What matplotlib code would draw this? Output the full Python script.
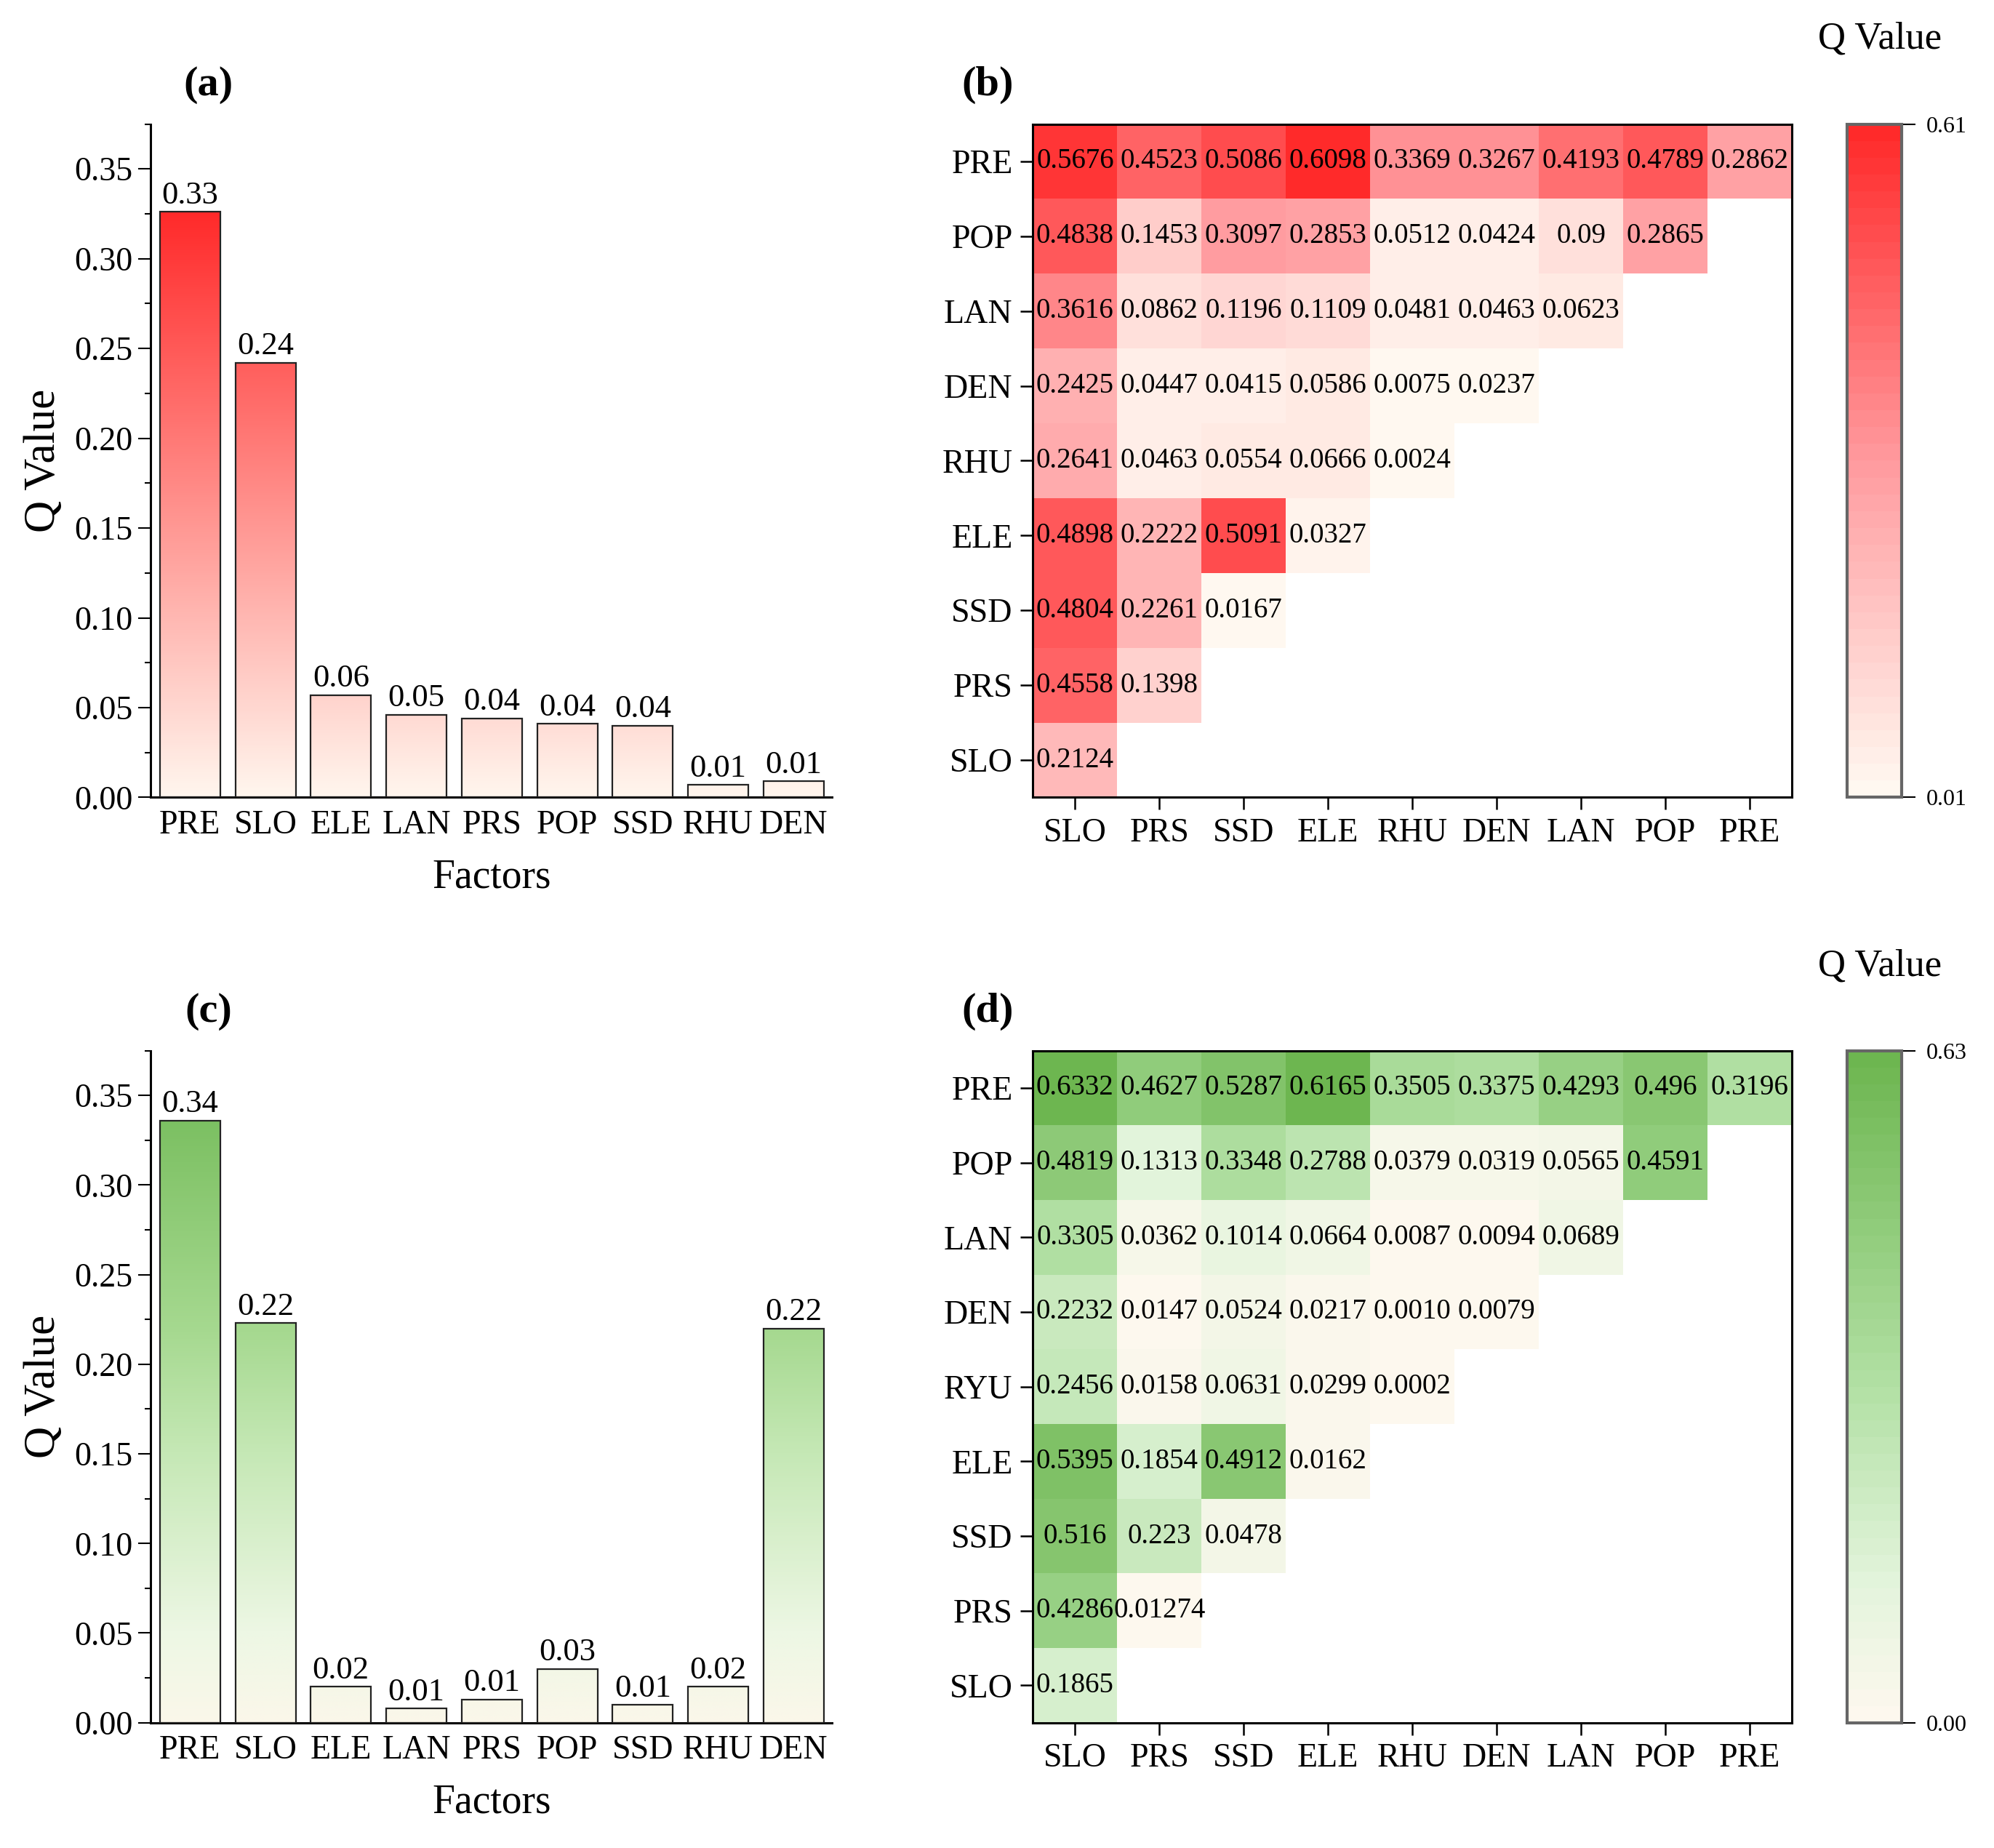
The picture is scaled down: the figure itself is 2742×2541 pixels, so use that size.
import numpy as np
import matplotlib
matplotlib.use('Agg')
import matplotlib.pyplot as plt
from matplotlib.colors import LinearSegmentedColormap
from matplotlib.ticker import MultipleLocator

plt.rcParams['font.family'] = ['Liberation Serif', 'DejaVu Serif']

# single factor q values (bar charts)
factors = ['PRE', 'SLO', 'ELE', 'LAN', 'PRS', 'POP', 'SSD', 'RHU', 'DEN']
q_a = [0.326, 0.242, 0.057, 0.046, 0.044, 0.041, 0.040, 0.007, 0.009]
q_c = [0.336, 0.223, 0.020, 0.008, 0.013, 0.030, 0.010, 0.020, 0.220]

# interaction q values, rows listed top to bottom
pair_cols = ['SLO', 'PRS', 'SSD', 'ELE', 'RHU', 'DEN', 'LAN', 'POP', 'PRE']
rows_b = ['PRE', 'POP', 'LAN', 'DEN', 'RHU', 'ELE', 'SSD', 'PRS', 'SLO']
rows_d = ['PRE', 'POP', 'LAN', 'DEN', 'RYU', 'ELE', 'SSD', 'PRS', 'SLO']
inter_b = [
    ['0.5676', '0.4523', '0.5086', '0.6098', '0.3369', '0.3267', '0.4193', '0.4789', '0.2862'],
    ['0.4838', '0.1453', '0.3097', '0.2853', '0.0512', '0.0424', '0.09', '0.2865'],
    ['0.3616', '0.0862', '0.1196', '0.1109', '0.0481', '0.0463', '0.0623'],
    ['0.2425', '0.0447', '0.0415', '0.0586', '0.0075', '0.0237'],
    ['0.2641', '0.0463', '0.0554', '0.0666', '0.0024'],
    ['0.4898', '0.2222', '0.5091', '0.0327'],
    ['0.4804', '0.2261', '0.0167'],
    ['0.4558', '0.1398'],
    ['0.2124'],
]
inter_d = [
    ['0.6332', '0.4627', '0.5287', '0.6165', '0.3505', '0.3375', '0.4293', '0.496', '0.3196'],
    ['0.4819', '0.1313', '0.3348', '0.2788', '0.0379', '0.0319', '0.0565', '0.4591'],
    ['0.3305', '0.0362', '0.1014', '0.0664', '0.0087', '0.0094', '0.0689'],
    ['0.2232', '0.0147', '0.0524', '0.0217', '0.0010', '0.0079'],
    ['0.2456', '0.0158', '0.0631', '0.0299', '0.0002'],
    ['0.5395', '0.1854', '0.4912', '0.0162'],
    ['0.516', '0.223', '0.0478'],
    ['0.4286', '0.01274'],
    ['0.1865'],
]

red_bar = LinearSegmentedColormap.from_list('rb', ['#FFF6EE', '#FF2A2A'])
green_bar = LinearSegmentedColormap.from_list(
    'gb', [(0, '#FBF7EA'), (0.15, '#EDF7E4'), (0.45, '#C5E8B5'), (0.65, '#A6D990'), (1, '#7CC062')])
red_heat = LinearSegmentedColormap.from_list('rh', [(0, '#FFF8F0'), (0.5, '#FF9A9E'), (1, '#FF2A2A')], N=40)
green_heat = LinearSegmentedColormap.from_list(
    'gh', [(0, '#FDF8EE'), (0.2, '#E3F4DC'), (0.5, '#B2E0A4'), (1, '#6DB650')], N=40)

fig = plt.figure(figsize=(27.42, 25.41), dpi=100)


def bar_panel(ax, values, cmap, tag):
    x = np.arange(len(factors))
    bars = ax.bar(x, values, width=0.8, facecolor='none', edgecolor='#222222', linewidth=1.6, zorder=3)
    vmax = max(values)
    for b, v in zip(bars, values):
        grad = np.linspace(0, v, 256).reshape(-1, 1)
        im = ax.imshow(grad, extent=[b.get_x(), b.get_x() + b.get_width(), 0, v], origin='lower',
                       cmap=cmap, vmin=0, vmax=vmax, aspect='auto', zorder=2)
        im.set_clip_path(b)
        ax.text(b.get_x() + b.get_width() / 2, v + 0.001, f'{v:.2f}', ha='center', va='bottom', fontsize=32)
    ax.set_xlim(-0.52, len(factors) - 0.49)
    ax.set_ylim(0, 0.375)
    ax.set_xticks(x)
    ax.set_xticklabels(factors, fontsize=33)
    ax.tick_params(axis='x', length=0, pad=12)
    ax.yaxis.set_major_locator(MultipleLocator(0.05))
    ax.yaxis.set_minor_locator(MultipleLocator(0.025))
    ax.set_yticklabels([f'{t:.2f}' for t in ax.get_yticks()], fontsize=33)
    ax.tick_params(axis='y', which='major', length=12, width=1.5, direction='out', pad=6)
    ax.tick_params(axis='y', which='minor', length=6, width=1.5, direction='out')
    for s in ['top', 'right']:
        ax.spines[s].set_visible(False)
    for s in ['left', 'bottom']:
        ax.spines[s].set_linewidth(2.2)
    ax.set_ylabel('Q Value', fontsize=44, labelpad=10)
    ax.set_xlabel('Factors', fontsize=40, labelpad=18)
    ax.text(0.085, 1.03, tag, transform=ax.transAxes, fontsize=42, fontweight='bold', ha='center', va='bottom')


def heat_panel(ax, cax, rows_text, row_labels, cmap, vmin, vmax, cb_labels, tag):
    n = len(pair_cols)
    z = np.full((n, n), np.nan)
    for r, row in enumerate(rows_text):
        for c, s in enumerate(row):
            z[n - 1 - r, c] = float(s)
    mesh = ax.pcolormesh(np.arange(n + 1), np.arange(n + 1), np.ma.masked_invalid(z),
                         cmap=cmap, vmin=vmin, vmax=vmax)
    for r, row in enumerate(rows_text):
        for c, s in enumerate(row):
            ax.text(c + 0.5, n - 1 - r + 0.5, s, ha='center', va='center', fontsize=28)
    ax.set_xlim(0, n)
    ax.set_ylim(0, n)
    ax.set_xticks(np.arange(n) + 0.5)
    ax.set_xticklabels(pair_cols, fontsize=33)
    ax.set_yticks(np.arange(n) + 0.5)
    ax.set_yticklabels(row_labels[::-1], fontsize=33)
    ax.tick_params(length=12, width=1.8, direction='out', pad=8)
    for s in ax.spines.values():
        s.set_linewidth(2.2)
    ax.text(-0.06, 1.03, tag, transform=ax.transAxes, fontsize=42, fontweight='bold', ha='center', va='bottom')

    cb = fig.colorbar(mesh, cax=cax, ticks=[vmin, vmax])
    cb.ax.set_yticklabels(cb_labels, fontsize=23)
    cb.ax.tick_params(length=14, width=1.5, pad=10)
    cb.outline.set_edgecolor('#666666')
    cb.outline.set_linewidth(3)
    cax.text(0.6, 1.1, 'Q Value', transform=cax.transAxes, fontsize=38, ha='center', va='bottom')


ax_a = fig.add_axes([0.0756, 0.5685, 0.3417, 0.3644])
ax_b = fig.add_axes([0.518, 0.5685, 0.3807, 0.3644])
cax_b = fig.add_axes([0.9263, 0.5685, 0.0275, 0.3644])
ax_c = fig.add_axes([0.0756, 0.0678, 0.3417, 0.3637])
ax_d = fig.add_axes([0.518, 0.0678, 0.3807, 0.3637])
cax_d = fig.add_axes([0.9263, 0.0678, 0.0275, 0.3637])

bar_panel(ax_a, q_a, red_bar, '(a)')
bar_panel(ax_c, q_c, green_bar, '(c)')
heat_panel(ax_b, cax_b, inter_b, rows_b, red_heat, 0.01, 0.61, ['0.01', '0.61'], '(b)')
heat_panel(ax_d, cax_d, inter_d, rows_d, green_heat, 0.0, 0.63, ['0.00', '0.63'], '(d)')

fig.savefig('out.png', dpi=100)
